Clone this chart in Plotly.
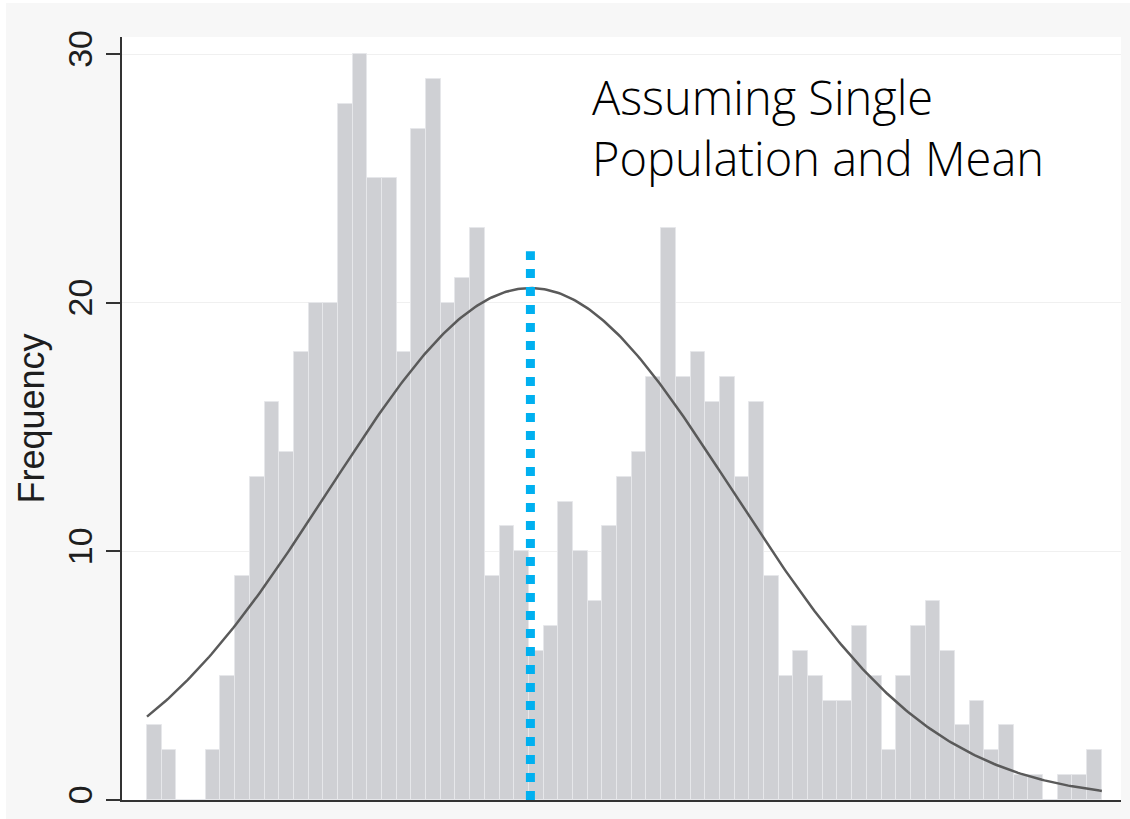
import numpy as np
import plotly.graph_objects as go

# Histogram bin counts (65 equal-width bins, left to right)
counts = [3, 2, 0, 0, 2, 5, 9, 13, 16, 14,
          18, 20, 20, 28, 30, 25, 25, 18, 27, 29,
          20, 21, 23, 9, 11, 10, 6, 7, 12, 10,
          8, 11, 13, 14, 17, 23, 17, 18, 16, 17,
          13, 16, 9, 5, 6, 5, 4, 4, 7, 5,
          2, 5, 7, 8, 6, 3, 4, 2, 3, 1,
          1, 0, 1, 1, 2]
bin_centers = [i + 0.5 for i in range(len(counts))]

# Normal overlay parameters (in bin units)
curve_mean = 26.1
curve_sd = 13.7
mean_line_top = 22.07

y_ticks = [0, 10, 20, 30]
y_tick_labels = ["0", "10", "20", "30"]
annotation_text = "Assuming Single<br>Population and Mean"
y_title = "Frequency"

n_total = sum(counts)
xs = np.linspace(0, len(counts), 400)
ys = n_total / (curve_sd * np.sqrt(2 * np.pi)) * np.exp(-0.5 * ((xs - curve_mean) / curve_sd) ** 2)

fig = go.Figure()
fig.add_trace(go.Bar(
    x=bin_centers, y=counts, width=1,
    marker=dict(color="#cfd0d4", line=dict(color="#e6e7ea", width=1)),
    showlegend=False, hoverinfo="skip"))
fig.add_trace(go.Scatter(
    x=xs, y=ys, mode="lines",
    line=dict(color="#5a5a5a", width=2.5),
    showlegend=False, hoverinfo="skip"))
fig.add_trace(go.Scatter(
    x=[curve_mean, curve_mean], y=[0, mean_line_top], mode="lines",
    line=dict(color="#00b0f0", width=9, dash="dot"),
    showlegend=False, hoverinfo="skip"))

W, H = 1130, 819
ml, mr, mt, mb = 122, 9, 37, 19
pw, ph = W - ml - mr, H - mt - mb
bar_px = 14.69
x_lo = -(147 - ml) / bar_px
x_hi = x_lo + pw / bar_px
y_hi = (800 - mt) / ((800 - 54) / 30)

fig.update_layout(
    width=W, height=H,
    margin=dict(l=ml, r=mr, t=mt, b=mb, pad=0),
    paper_bgcolor="#f7f7f7", plot_bgcolor="#ffffff",
    bargap=0,
    xaxis=dict(range=[x_lo, x_hi], showticklabels=False, showgrid=False,
               zeroline=False, showline=True, linecolor="#333333", linewidth=2,
               ticks=""),
    yaxis=dict(range=[0, y_hi], tickvals=y_ticks, ticktext=y_tick_labels,
               tickangle=-90, ticks="outside", ticklen=14, tickwidth=2,
               tickcolor="#333333", showline=True, linecolor="#333333", linewidth=2,
               showgrid=True, gridcolor="#f0f0f0", gridwidth=1, zeroline=False,
               tickfont=dict(family="Liberation Sans, Arial", size=34, color="#1e1e1e"),
               title=dict(text=y_title, standoff=6,
                          font=dict(family="Liberation Sans, Arial", size=36, color="#1e1e1e"))),
    annotations=[dict(
        text=annotation_text, xref="paper", yref="paper",
        x=(590 - ml) / pw, y=(800 - 63) / ph, xanchor="left", yanchor="top",
        align="left", showarrow=False,
        font=dict(family="Open Sans", size=47, color="#000000", weight=300))],
    shapes=[
        dict(type="rect", xref="paper", yref="paper", layer="below",
             x0=-ml / pw, x1=(-ml + 6) / pw, y0=-mb / ph, y1=(ph + mt) / ph,
             fillcolor="#ffffff", line=dict(width=0)),
        dict(type="rect", xref="paper", yref="paper", layer="below",
             x0=-ml / pw, x1=(pw + mr) / pw, y0=(ph + mt - 3) / ph, y1=(ph + mt) / ph,
             fillcolor="#ffffff", line=dict(width=0)),
    ],
)

fig.write_html("out.html", config={"displayModeBar": False},
               post_script="document.body.style.margin='0';document.body.style.overflow='hidden';")
